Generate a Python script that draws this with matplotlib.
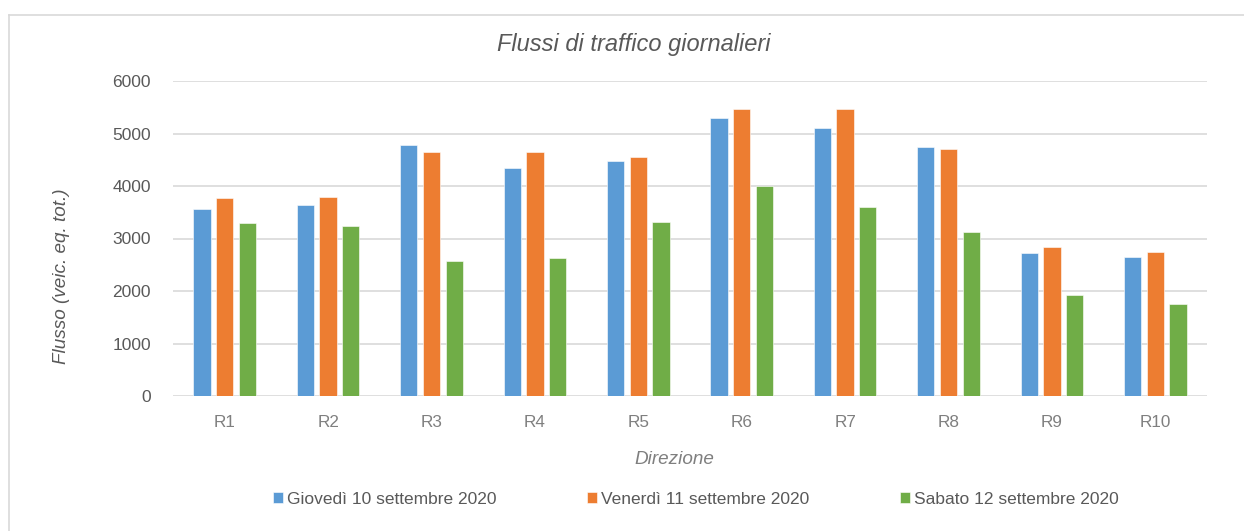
import numpy as np
import matplotlib.pyplot as plt
from matplotlib.lines import Line2D

plt.rcParams['font.family'] = ['Liberation Sans', 'DejaVu Sans']

direzioni = ["R1", "R2", "R3", "R4", "R5", "R6", "R7", "R8", "R9", "R10"]
giovedi = [3564, 3646, 4775, 4344, 4477, 5289, 5105, 4737, 2720, 2657]
venerdi = [3773, 3786, 4642, 4642, 4547, 5472, 5460, 4699, 2847, 2739]
sabato = [3304, 3234, 2562, 2638, 3310, 4008, 3608, 3120, 1921, 1750]
serie = ["Giovedì 10 settembre 2020", "Venerdì 11 settembre 2020", "Sabato 12 settembre 2020"]
colori = ["#5b9bd5", "#ed7d31", "#70ad47"]


def grafica():
    W, H = 1244, 531
    fig = plt.figure(figsize=(W / 100, H / 100), dpi=100)
    # cornice: si vedono solo il bordo alto e quello sinistro
    fig.add_artist(Line2D([8.5 / W, 1], [1 - 14.5 / H, 1 - 14.5 / H],
                          transform=fig.transFigure, color="#d9d9d9", linewidth=1.2))
    fig.add_artist(Line2D([8.5 / W, 8.5 / W], [0, 1 - 14.5 / H],
                          transform=fig.transFigure, color="#d9d9d9", linewidth=1.2))
    ax = fig.add_axes([173 / W, 1 - 396 / H, (1207 - 173) / W, (396 - 81) / H])

    x = np.arange(len(direzioni))
    larg = 0.168
    passo = 0.2195
    for i, (vals, nome, col) in enumerate(zip([giovedi, venerdi, sabato], serie, colori)):
        ax.bar(x + (i - 1) * passo, vals, width=larg, color=col, label=nome,
               edgecolor="white", linewidth=0.4, zorder=3)

    ax.set_xlim(-0.5, len(direzioni) - 0.5)
    ax.set_ylim(0, 6000)
    ax.set_yticks(np.arange(0, 6001, 1000))
    ax.yaxis.grid(True, color="#d9d9d9", linewidth=1.2, zorder=0)
    ax.set_axisbelow(True)
    for s in ax.spines.values():
        s.set_visible(False)
    ax.tick_params(axis="both", length=0)
    ax.tick_params(axis="y", labelsize=12.5, labelcolor="#595959", pad=16)
    ax.tick_params(axis="x", labelsize=12.3, labelcolor="#7f7f7f", pad=14)
    ax.set_xticks(x)
    ax.set_xticklabels(direzioni)

    fig.text(634 / W, 1 - 45 / H, "Flussi di traffico giornalieri", fontsize=17,
             style="italic", color="#595959", ha="center", va="center")
    fig.text(62 / W, 1 - 276 / H, "Flusso (veic. eq. tot.)", fontsize=13.6,
             style="italic", color="#595959", ha="center", va="center", rotation=90)
    fig.text(674 / W, 1 - 459 / H, "Direzione", fontsize=13.6,
             style="italic", color="#7f7f7f", ha="center", va="center")

    fig.legend(loc="center", bbox_to_anchor=(696 / W, 1 - 499 / H),
               bbox_transform=fig.transFigure, ncol=3, frameon=False,
               fontsize=12.5, labelcolor="#595959", handlelength=0.58,
               handleheight=0.58, handletextpad=0.25, columnspacing=5.2)

    fig.savefig("out.png", dpi=100)


if __name__ == "__main__":
    grafica()
